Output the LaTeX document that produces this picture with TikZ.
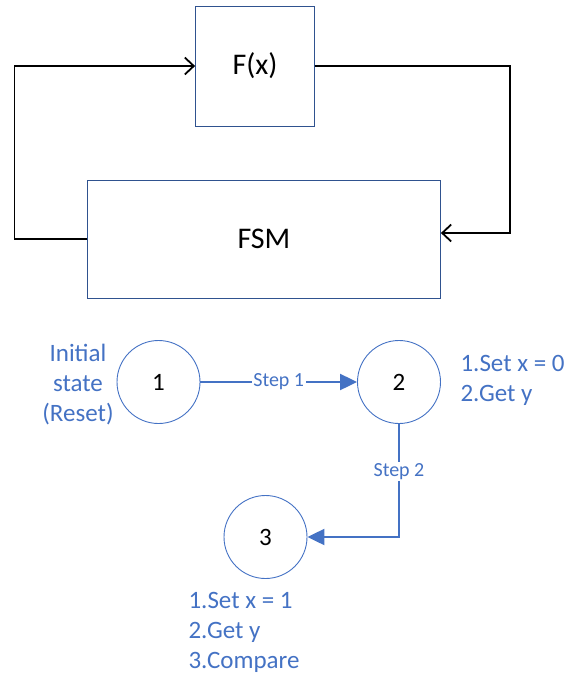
\documentclass[tikz,border=0pt]{standalone}
\usepackage{fontspec}
\setmainfont{Carlito}
\usetikzlibrary{arrows.meta}
\definecolor{stateblue}{HTML}{4472C4}
\definecolor{boxline}{HTML}{2F528F}

\begin{document}
\begin{tikzpicture}[x=1pt,y=-1pt,
	block/.style={draw=boxline,line width=0.8pt,inner sep=0pt,font=\fontsize{30}{36}\selectfont},
	feedback/.style={line width=1.8pt,-{Straight Barb[length=9pt,width=17pt]}},
	fsmstate/.style={draw=stateblue,line width=0.9pt,circle,minimum size=83pt,inner sep=0pt,font=\fontsize{25}{30}\selectfont},
	note/.style={text=stateblue,font=\fontsize{25}{30}\selectfont},
	flow/.style={draw=stateblue,line width=2.2pt,-{Triangle[length=17pt,width=16pt]}},
	steplbl/.style={fill=white,text=stateblue,inner sep=1.5pt,font=\fontsize{20}{24}\selectfont}]
	\useasboundingbox (0,0) rectangle (565,673); %page
	
	%blocks
	\node[block,minimum width=119pt,minimum height=120pt] (fx) at (255,66) {F(x)}; %F(x) box
	\node[block,minimum width=353pt,minimum height=118pt] (fsm) at (264,239) {FSM}; %FSM box
	
	%loop---------------------------------------------
	\coordinate (lc) at (14.5,67); %left corner
	\coordinate (rc) at (510,65); %right corner
	\draw[feedback] (fsm.west) -| (lc) |- (fx.west); %FSM to F(x)
	\draw[feedback] (fx.east) -| (rc) |- ([yshift=6pt]fsm.east); %F(x) to FSM
	
	%states-------------------------------------------
	\node[fsmstate] (s1) at (158.5,382) {1}; %state 1
	\node[fsmstate] (s2) at (399,382) {2}; %state 2
	\node[fsmstate] (s3) at (265.5,537) {3}; %state 3
	
		%notes (base = last line)
		\node[note,align=center,anchor=base] (n1) at (78,421) {Initial\\state\\(Reset)}; %state 1 note
		\node[note,align=left,anchor=base west] (n2) at (457,401) {1.Set x = 0\\2.Get y}; %state 2 note
		\node[note,align=left,anchor=base west] (n3) at (185,668) {1.Set x = 1\\2.Get y\\3.Compare}; %state 3 note
		
		%steps
		\draw[flow] (s1) -- node[steplbl] (st1) {Step 1} (s2); %step 1
		\draw[flow] (s2) |- node[steplbl,pos=0.21] (st2) {Step 2} (s3); %step 2
	
\end{tikzpicture}
\end{document}
